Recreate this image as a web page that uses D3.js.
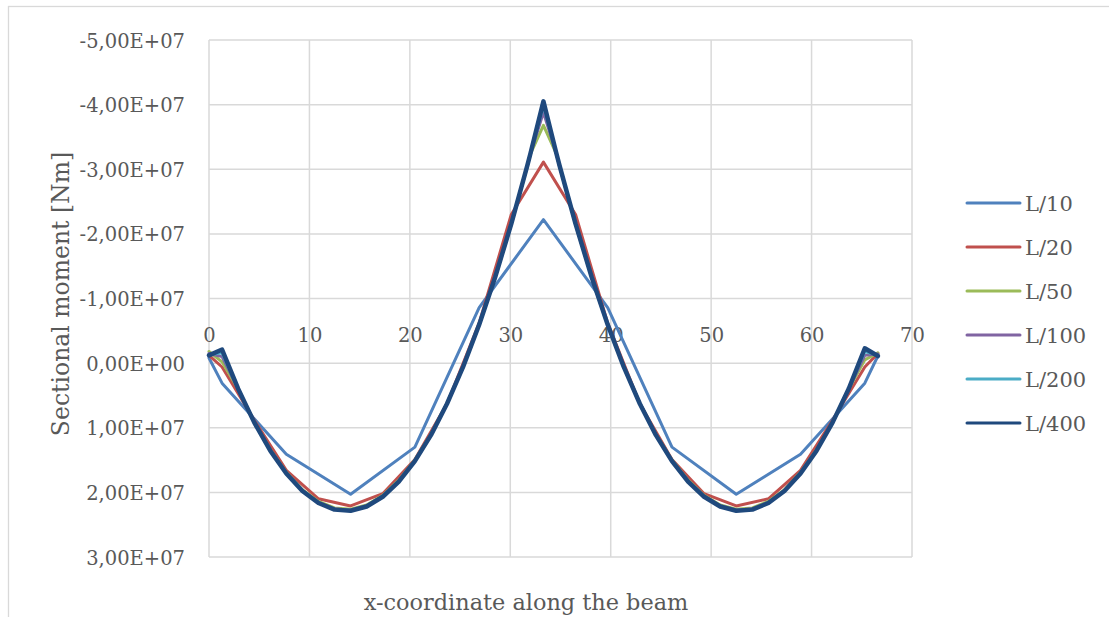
<!DOCTYPE html>
<html><head><meta charset="utf-8">
<script src="https://cdn.jsdelivr.net/npm/d3@7"></script>
<style>
body{margin:0;background:#fff}
svg{display:block}
text{font-family:"DejaVu Serif",serif;fill:#595959}
</style>
</head><body>
<svg id="chart" width="1109" height="617"></svg>
<script>
// ---------- data ----------
const seriesNames = ["L/10", "L/20", "L/50", "L/100", "L/200", "L/400"];
const seriesColors = ["#4F81BD", "#C0504D", "#9BBB59", "#8064A2", "#4BACC6", "#1F497D"];

const xTicks = [0, 10, 20, 30, 40, 50, 60, 70];
const yTicks = [-5e7, -4e7, -3e7, -2e7, -1e7, 0, 1e7, 2e7, 3e7];
const yTickLabels = ["-5,00E+07", "-4,00E+07", "-3,00E+07", "-2,00E+07", "-1,00E+07",
                     "0,00E+00", "1,00E+07", "2,00E+07", "3,00E+07"];

const xL10 = [0, 1.3, 7.7, 14.1, 20.5, 26.9, 33.3, 39.7, 46.1, 52.5, 58.9, 65.3, 66.6];
const mL10 = [-0.8e6, 3.1e6, 14.1e6, 20.3e6, 13.0e6, -8.6e6, -22.2e6, -8.6e6, 13.0e6, 20.3e6, 14.1e6, 3.1e6, -1.1e6];

const xL20 = [0, 1.3, 4.5, 7.7, 10.9, 14.1, 17.3, 20.5, 23.7, 26.9, 30.1, 33.3,
              36.5, 39.7, 42.9, 46.1, 49.3, 52.5, 55.7, 58.9, 62.1, 65.3, 66.6];
const mL20 = [-1.2e6, 0.6e6, 8.8e6, 16.6e6, 21.0e6, 22.1e6, 20.2e6, 14.9e6, 6.3e6, -6.2e6, -23.0e6, -31.1e6,
              -23.0e6, -6.2e6, 6.3e6, 14.9e6, 20.2e6, 22.1e6, 21.0e6, 16.6e6, 8.8e6, 0.6e6, -1.5e6];

const xFine = [0, 1.3, 2.9, 4.5, 6.1, 7.7, 9.3, 10.9, 12.5, 14.1, 15.7, 17.3, 18.9, 20.5, 22.1, 23.7, 25.3,
               26.9, 28.5, 30.1, 31.7, 32.02, 33.3, 34.58, 34.9, 36.5, 38.1, 39.7, 41.3, 42.9, 44.5, 46.1,
               47.7, 49.3, 50.9, 52.5, 54.1, 55.7, 57.3, 58.9, 60.5, 62.1, 63.7, 65.3, 66.6];

const mL50 = [-1.8e6, -0.2e6, 4.0e6, 9.1e6, 13.4e6, 16.9e6, 19.6e6, 21.4e6, 22.4e6, 22.6e6, 21.95e6, 20.45e6,
              18.1e6, 15.0e6, 11.0e6, 6.2e6, 0.55e6, -5.95e6, -13.3e6, -21.5e6, -30.5e6, -32.4e6, -36.8e6,
              -32.4e6, -30.5e6, -21.5e6, -13.3e6, -5.95e6, 0.55e6, 6.2e6, 11.0e6, 15.0e6, 18.1e6, 20.45e6,
              21.95e6, 22.6e6, 22.4e6, 21.4e6, 19.6e6, 16.9e6, 13.4e6, 9.1e6, 4.0e6, -0.5e6, -1.6e6];

const mL100 = [-1.5e6, -1.0e6, 3.98e6, 9.13e6, 13.48e6, 17.0e6, 19.7e6, 21.55e6, 22.55e6, 22.75e6, 22.08e6, 20.58e6,
               18.24e6, 15.1e6, 11.08e6, 6.25e6, 0.57e6, -5.95e6, -13.32e6, -21.53e6, -30.55e6, -32.46e6, -38.8e6,
               -32.46e6, -30.55e6, -21.53e6, -13.32e6, -5.95e6, 0.57e6, 6.25e6, 11.08e6, 15.1e6, 18.24e6, 20.58e6,
               22.08e6, 22.75e6, 22.55e6, 21.55e6, 19.7e6, 17.0e6, 13.48e6, 9.13e6, 3.98e6, -1.2e6, -1.4e6];

const mL200 = [-1.3e6, -1.6e6, 3.97e6, 9.15e6, 13.52e6, 17.05e6, 19.75e6, 21.6e6, 22.62e6, 22.8e6, 22.13e6, 20.63e6,
               18.3e6, 15.14e6, 11.12e6, 6.27e6, 0.58e6, -5.95e6, -13.33e6, -21.54e6, -30.58e6, -32.49e6, -39.8e6,
               -32.49e6, -30.58e6, -21.54e6, -13.33e6, -5.95e6, 0.58e6, 6.27e6, 11.12e6, 15.14e6, 18.3e6, 20.63e6,
               22.13e6, 22.8e6, 22.62e6, 21.6e6, 19.75e6, 17.05e6, 13.52e6, 9.15e6, 3.97e6, -1.8e6, -1.2e6];

const mL400 = [-1.2e6, -2.1e6, 3.96e6, 9.17e6, 13.55e6, 17.09e6, 19.79e6, 21.65e6, 22.67e6, 22.85e6, 22.18e6, 20.68e6,
               18.34e6, 15.17e6, 11.15e6, 6.29e6, 0.59e6, -5.95e6, -13.33e6, -21.55e6, -30.6e6, -32.51e6, -40.5e6,
               -32.51e6, -30.6e6, -21.55e6, -13.33e6, -5.95e6, 0.59e6, 6.29e6, 11.15e6, 15.17e6, 18.34e6, 20.68e6,
               22.18e6, 22.85e6, 22.67e6, 21.65e6, 19.79e6, 17.09e6, 13.55e6, 9.17e6, 3.96e6, -2.3e6, -1.1e6];

const seriesX = [xL10, xL20, xFine, xFine, xFine, xFine];
const seriesM = [mL10, mL20, mL50, mL100, mL200, mL400];
const seriesWidths = [3, 3, 3, 3, 3, 4.5];

// ---------- drawing ----------
const svg = d3.select("#chart");
const plot = {left: 209, right: 912, top: 40, bottom: 557};

const x = d3.scaleLinear().domain([0, 70]).range([plot.left, plot.right]);
const y = d3.scaleLinear().domain([-5e7, 3e7]).range([plot.top, plot.bottom]);

// outer chart border
svg.append("rect").attr("x", 8.5).attr("y", 6.5).attr("width", 1200).attr("height", 700)
  .attr("fill", "none").attr("stroke", "#d9d9d9").attr("stroke-width", 1.3);

// gridlines
const grid = svg.append("g");
grid.selectAll("line.v").data(xTicks).join("line")
  .attr("x1", d => x(d)).attr("x2", d => x(d))
  .attr("y1", plot.top).attr("y2", plot.bottom)
  .attr("stroke", "#d9d9d9").attr("stroke-width", 1.5);
grid.selectAll("line.h").data(yTicks).join("line")
  .attr("x1", plot.left).attr("x2", plot.right)
  .attr("y1", d => y(d)).attr("y2", d => y(d))
  .attr("stroke", "#d9d9d9").attr("stroke-width", 1.5);

// y axis labels
const yAxis = d3.axisLeft(y).tickValues(yTicks)
  .tickFormat((d, i) => yTickLabels[i]).tickSize(0).tickPadding(24);
const gy = svg.append("g").attr("transform", `translate(${plot.left},0)`).call(yAxis);
gy.select(".domain").remove();
gy.selectAll("text").attr("font-family", "DejaVu Serif").attr("font-size", 19.5)
  .attr("fill", "#595959").attr("dy", "0.36em");

// x axis labels at zero line (labels above)
const xAxis = d3.axisTop(x).tickValues(xTicks).tickFormat(d3.format("d")).tickSize(0).tickPadding(21);
const gx = svg.append("g").attr("transform", `translate(0,${y(0)})`).call(xAxis);
gx.select(".domain").remove();
gx.selectAll("text").attr("font-family", "DejaVu Serif").attr("font-size", 19.5).attr("fill", "#595959");

// series lines
const line = d3.line().x(d => x(d[0])).y(d => y(d[1]));
seriesNames.forEach((name, i) => {
  const pts = seriesX[i].map((xv, j) => [xv, seriesM[i][j]]);
  svg.append("path").datum(pts)
    .attr("d", line)
    .attr("fill", "none")
    .attr("stroke", seriesColors[i])
    .attr("stroke-width", seriesWidths[i])
    .attr("stroke-linejoin", "round")
    .attr("stroke-linecap", "round");
});

// axis titles
svg.append("text").attr("x", 526).attr("y", 610).attr("text-anchor", "middle")
  .attr("font-size", 22.4).text("x-coordinate along the beam");
svg.append("text").attr("transform", "translate(69,294) rotate(-90)").attr("text-anchor", "middle")
  .attr("font-size", 23.5).text("Sectional moment [Nm]");

// legend
const legend = svg.append("g");
seriesNames.forEach((name, i) => {
  const cy = 203 + i * 44;
  legend.append("line").attr("x1", 967).attr("x2", 1020).attr("y1", cy).attr("y2", cy)
    .attr("stroke", seriesColors[i]).attr("stroke-width", 3).attr("stroke-linecap", "round");
  legend.append("text").attr("x", 1025).attr("y", cy).attr("dy", "0.36em")
    .attr("font-size", 21).text(name);
});
</script>
</body></html>
